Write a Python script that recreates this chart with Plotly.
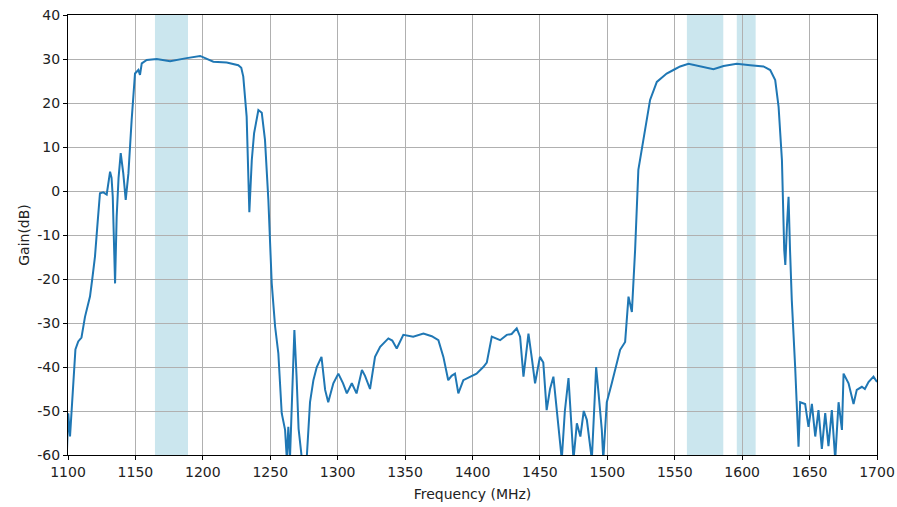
import plotly.graph_objects as go

# frequency (MHz) and gain (dB)
freq = [1099, 1100.2, 1101.5, 1102.7, 1104, 1105.5, 1107.6, 1110, 1112.6, 1116.3, 1118, 1120, 1122, 1123.7,
        1126.2, 1128.7, 1131.2, 1132.3, 1133.2, 1134.9, 1136.1, 1137.5, 1139.1, 1141, 1142.8, 1144.8, 1147.2,
        1149.7, 1152.2, 1153.4, 1154.7, 1158.4, 1165.8, 1175.7, 1188, 1198, 1207.8, 1217.7, 1226.3, 1228.5,
        1230, 1232.5, 1234.5, 1236.3, 1238, 1241.2, 1243.7, 1246.1, 1248.6, 1251.1, 1253.6, 1256, 1258.5,
        1261, 1262.3, 1263.4, 1264.6, 1266.5, 1267.9, 1269.5, 1271, 1273.5, 1277, 1279.5, 1282, 1284.5,
        1288, 1290.7, 1293, 1296.8, 1300.5, 1304, 1306.8, 1310.5, 1314, 1318, 1320.3, 1324, 1327.7, 1331.5,
        1334.5, 1337.6, 1340.5, 1343.8, 1348.7, 1356, 1363.6, 1369.8, 1374.7, 1378.4, 1382, 1384.5, 1387,
        1389.5, 1393.2, 1398.2, 1403, 1408, 1410.6, 1414.3, 1420.5, 1425.4, 1429, 1432.8, 1435.3, 1437.8,
        1439.5, 1441.5, 1444, 1446.4, 1450, 1452.5, 1455, 1457.5, 1460, 1462.5, 1466.2, 1468.5, 1471.2,
        1474.9, 1477.4, 1480, 1482.5, 1484.8, 1488.5, 1490.5, 1491.7, 1493.5, 1495.9, 1497, 1499.6, 1503.3,
        1507, 1509.5, 1513.2, 1515.7, 1518.2, 1520.6, 1523, 1526.8, 1531.7, 1536.7, 1544, 1549, 1554,
        1560.2, 1568.8, 1578.7, 1586.2, 1596, 1606, 1615.8, 1620.8, 1624.5, 1627, 1629.5, 1631.2, 1632,
        1633.2, 1634.4, 1635.5, 1636.8, 1639.3, 1641.8, 1643, 1646.7, 1649.2, 1651.7, 1654.2, 1656.6,
        1659.1, 1661.6, 1664, 1666.5, 1669, 1671.5, 1674, 1675.2, 1678.9, 1682.6, 1685, 1688.8, 1691,
        1693.7, 1697.4, 1700]
gain = [-61, -50.5, -55.8, -50.5, -43.7, -36, -34.2, -33.3, -28.6, -24, -20, -14.9, -7, -0.5,
        -0.3, -0.8, 4.4, 3, -1.3, -21, -5.8, 3, 8.6, 4, -2, 4, 16.1,
        26.7, 27.5, 26.4, 29, 29.8, 30, 29.5, 30.2, 30.7, 29.4, 29.2, 28.6, 28,
        26, 16.9, -4.8, 7, 13.1, 18.4, 17.8, 11.6, -2, -21, -30.8, -36.9, -50.5,
        -54.3, -61, -53.6, -61, -45, -31.6, -42, -54, -61, -61, -48, -43, -40,
        -37.7, -45.2, -48, -43.7, -41.5, -43.7, -46, -43.7, -46, -40.7, -42, -45, -37.7, -35.4,
        -34.5, -33.5, -34, -35.8, -32.7, -33.1, -32.4, -33, -33.9, -37.7, -43, -42, -41.5,
        -46, -43, -42.2, -41.5, -40, -39, -33.1, -33.9, -32.7, -32.5, -31.2, -33.1, -42.2,
        -38, -32.4, -38, -43.7, -37.7, -39, -49.8, -45, -42.2, -49.8, -61, -50, -42.5,
        -61, -52.8, -55.8, -50, -52, -61, -48, -40, -46, -54.3, -61, -48, -43.7,
        -39, -36.1, -34.3, -24, -27.5, -13.4, 4.8, 11.6, 20.7, 24.8, 26.7, 27.5, 28.3,
        28.9, 28.4, 27.7, 28.4, 28.9, 28.6, 28.3, 27.5, 25.2, 19.2, 7, -13.4, -16.8,
        -8, -1.3, -13.4, -24.8, -40, -58.1, -48, -48.4, -53.6, -48.4, -55.8, -49.8,
        -58.6, -50.5, -58, -49.8, -61, -48, -54.3, -41.5, -43.7, -48.4, -45.2, -44.5, -45,
        -43.4, -42.2, -43.4]

# shaded frequency bands (MHz)
band_start = [1164.5, 1559, 1596]
band_end = [1189, 1586, 1610]

# y tick labels use a plain hyphen like the original
gain_ticks = [-60, -50, -40, -30, -20, -10, 0, 10, 20, 30, 40]
gain_labels = ['-60', '-50', '-40', '-30', '-20', '-10', '0', '10', '20', '30', '40']

fig = go.Figure()
fig.add_trace(go.Scatter(x=freq, y=gain, mode='lines',
                         line=dict(color='#1f77b4', width=2), showlegend=False))

for b0, b1 in zip(band_start, band_end):
    fig.add_vrect(x0=b0, x1=b1, fillcolor='#a9d6e3', opacity=0.6, line_width=0, layer='below')

txt_font = dict(family='DejaVu Sans', size=14, color='#222222')
axis_style = dict(showgrid=True, gridcolor='#b0b0b0', gridwidth=1, showline=True, linecolor='black',
                  linewidth=1, mirror=True, ticks='outside', ticklen=4, tickcolor='black',
                  zeroline=False, automargin=False, tickfont=txt_font)

fig.update_xaxes(range=[1100, 1700], dtick=50,
                 title=dict(text='Frequency (MHz)', font=txt_font, standoff=10),
                 **axis_style)
fig.update_yaxes(range=[-60, 40], tickvals=gain_ticks, ticktext=gain_labels,
                 title=dict(text='Gain(dB)', font=txt_font, standoff=4),
                 **axis_style)

fig.update_layout(width=897, height=507, margin=dict(l=68, r=20, t=15, b=52, autoexpand=False),
                  plot_bgcolor='white', paper_bgcolor='white')

# drop the default 8px body margin so the figure fills the window exactly
fig.write_html('out.html', config={'displayModeBar': False},
               post_script="document.body.style.margin='0';")
